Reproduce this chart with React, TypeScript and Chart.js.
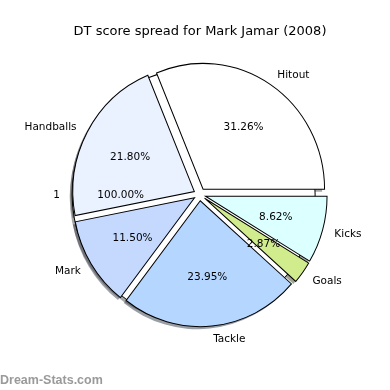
import React, { useEffect, useRef } from "react";
import { Chart, registerables } from "chart.js";

Chart.register(...registerables);

const TITLE = "DT score spread for Mark Jamar (2008)";
const WATERMARK = "Dream-Stats.com";

// matplotlib order (counter-clockwise from 3 o'clock)
const categories = ["Hitout", "Handballs", "Mark", "Tackle", "Goals", "Kicks"];
const percentages = [31.26, 21.8, 11.5, 23.95, 2.87, 8.62];
const sliceColors = ["#ffffff", "#eaf1ff", "#c5d9ff", "#b5d6ff", "#d0ec8c", "#dcffff"];

// a single full-circle wedge drawn underneath the others
const backdropLabels = ["1"];
const backdropValues = [1];
const backdropColors = ["#ffffff"];

const EXPLODE = 0.05;
const SHADOW = 0.02;
const Y_SCALE = 1.036;
const FONT = '"DejaVu Sans", sans-serif';
const LABEL_SIZE = 10.5;
const TITLE_SIZE = 13;

function shade(hex: string): string {
  const n = parseInt(hex.slice(1), 16);
  const r = Math.round(((n >> 16) & 255) * 0.3);
  const g = Math.round(((n >> 8) & 255) * 0.3);
  const b = Math.round((n & 255) * 0.3);
  return `rgba(${r},${g},${b},0.5)`;
}

const mplPie = {
  id: "mplPie",
  beforeDatasetsDraw(chart: any) {
    const ctx: CanvasRenderingContext2D = chart.ctx;
    const meta = chart.getDatasetMeta(0);
    const arcs: any[] = meta.data;
    if (!arcs.length) return false;
    const cx = arcs[0].x;
    const cy = arcs[0].y;
    const R = arcs[0].outerRadius;
    const E = EXPLODE * R;
    const sh = SHADOW * R;
    const colors: string[] = chart.data.datasets[0].backgroundColor;

    ctx.save();
    ctx.translate(cx, cy);
    ctx.scale(1, Y_SCALE);
    ctx.translate(-cx, -cy);

    // backdrop (full circle) exploded toward 180°
    const bx = cx - E;
    const by = cy;
    // shadows first
    ctx.fillStyle = shade(backdropColors[0]);
    ctx.beginPath();
    ctx.arc(bx - sh, by + sh, R, 0, Math.PI * 2);
    ctx.fill();
    arcs.forEach((arc, i) => {
      const mid = (arc.startAngle + arc.endAngle) / 2;
      const ox = arc.x + E * Math.cos(mid) - sh;
      const oy = arc.y + E * Math.sin(mid) + sh;
      ctx.fillStyle = shade(colors[i]);
      ctx.beginPath();
      ctx.moveTo(ox, oy);
      ctx.arc(ox, oy, R, arc.startAngle, arc.endAngle);
      ctx.closePath();
      ctx.fill();
    });

    // backdrop wedge
    ctx.fillStyle = backdropColors[0];
    ctx.strokeStyle = "#000";
    ctx.lineWidth = 1;
    ctx.beginPath();
    ctx.arc(bx, by, R, 0, Math.PI * 2);
    ctx.fill();
    ctx.stroke();

    // slices, exploded
    arcs.forEach((arc) => {
      const mid = (arc.startAngle + arc.endAngle) / 2;
      ctx.save();
      ctx.translate(E * Math.cos(mid), E * Math.sin(mid));
      arc.draw(ctx);
      ctx.restore();
    });

    ctx.restore();
    return false;
  },
  afterDraw(chart: any) {
    const ctx: CanvasRenderingContext2D = chart.ctx;
    const meta = chart.getDatasetMeta(0);
    const arcs: any[] = meta.data;
    if (!arcs.length) return;
    const cx = arcs[0].x;
    const cy = arcs[0].y;
    const R = arcs[0].outerRadius;
    const E = EXPLODE * R;
    const labels: string[] = chart.data.labels;
    const values: number[] = chart.data.datasets[0].data;
    const total = values.reduce((a, b) => a + b, 0);
    const bTotal = backdropValues.reduce((a, b) => a + b, 0);

    ctx.save();
    ctx.fillStyle = "#000";
    ctx.textBaseline = "alphabetic";

    // title
    ctx.font = `${TITLE_SIZE}px ${FONT}`;
    ctx.textAlign = "center";
    ctx.fillText(TITLE, 200, 34.5);

    ctx.font = `${LABEL_SIZE}px ${FONT}`;
    const drop = LABEL_SIZE * 0.365;
    const toY = (dy: number) => cy + dy * Y_SCALE + drop;

    // backdrop labels
    ctx.textAlign = "right";
    ctx.fillText(backdropLabels[0], cx - E - 1.1 * R, cy + drop);
    ctx.textAlign = "center";
    ctx.fillText(((backdropValues[0] / bTotal) * 100).toFixed(2) + "%", cx - E - 0.6 * R, cy + drop);

    arcs.forEach((arc, i) => {
      const mid = (arc.startAngle + arc.endAngle) / 2;
      const c = Math.cos(mid);
      const s = Math.sin(mid);
      const lx = E * c + 1.1 * R * c;
      const ly = E * s + 1.1 * R * s;
      ctx.textAlign = lx > 0 ? "left" : "right";
      ctx.fillText(labels[i], cx + lx, toY(ly));
      const px = E * c + 0.6 * R * c;
      const py = E * s + 0.6 * R * s;
      ctx.textAlign = "center";
      ctx.fillText(((values[i] / total) * 100).toFixed(2) + "%", cx + px, toY(py));
    });

    // watermark
    ctx.font = `bold 12.5px "Liberation Sans", Arial, sans-serif`;
    ctx.fillStyle = "#9a9a9a";
    ctx.textAlign = "left";
    ctx.fillText(WATERMARK, 0, 384);
    ctx.restore();
  },
};

export default function App() {
  const ref = useRef<HTMLCanvasElement | null>(null);

  useEffect(() => {
    if (!ref.current) return;
    const rev = <T,>(a: T[]) => a.slice().reverse();
    const chart = new Chart(ref.current, {
      type: "pie",
      data: {
        labels: rev(categories),
        datasets: [
          {
            data: rev(percentages),
            backgroundColor: rev(sliceColors),
            borderColor: "#000",
            borderWidth: 1,
            borderJoinStyle: "miter",
            offset: 0,
          } as any,
        ],
      },
      options: {
        animation: false,
        responsive: false,
        devicePixelRatio: 1,
        events: [],
        rotation: 90,
        layout: {
          padding: { left: 77.7, right: 68.3, top: 72.5, bottom: 73.5 },
        },
        plugins: {
          legend: { display: false },
          tooltip: { enabled: false },
          title: { display: false },
        },
      },
      plugins: [mplPie],
    });
    return () => chart.destroy();
  }, []);

  return (
    <div style={{ position: "fixed", left: 0, top: 0, width: 390, height: 390, background: "#fff" }}>
      <canvas ref={ref} width={390} height={390} style={{ display: "block" }} />
    </div>
  );
}
